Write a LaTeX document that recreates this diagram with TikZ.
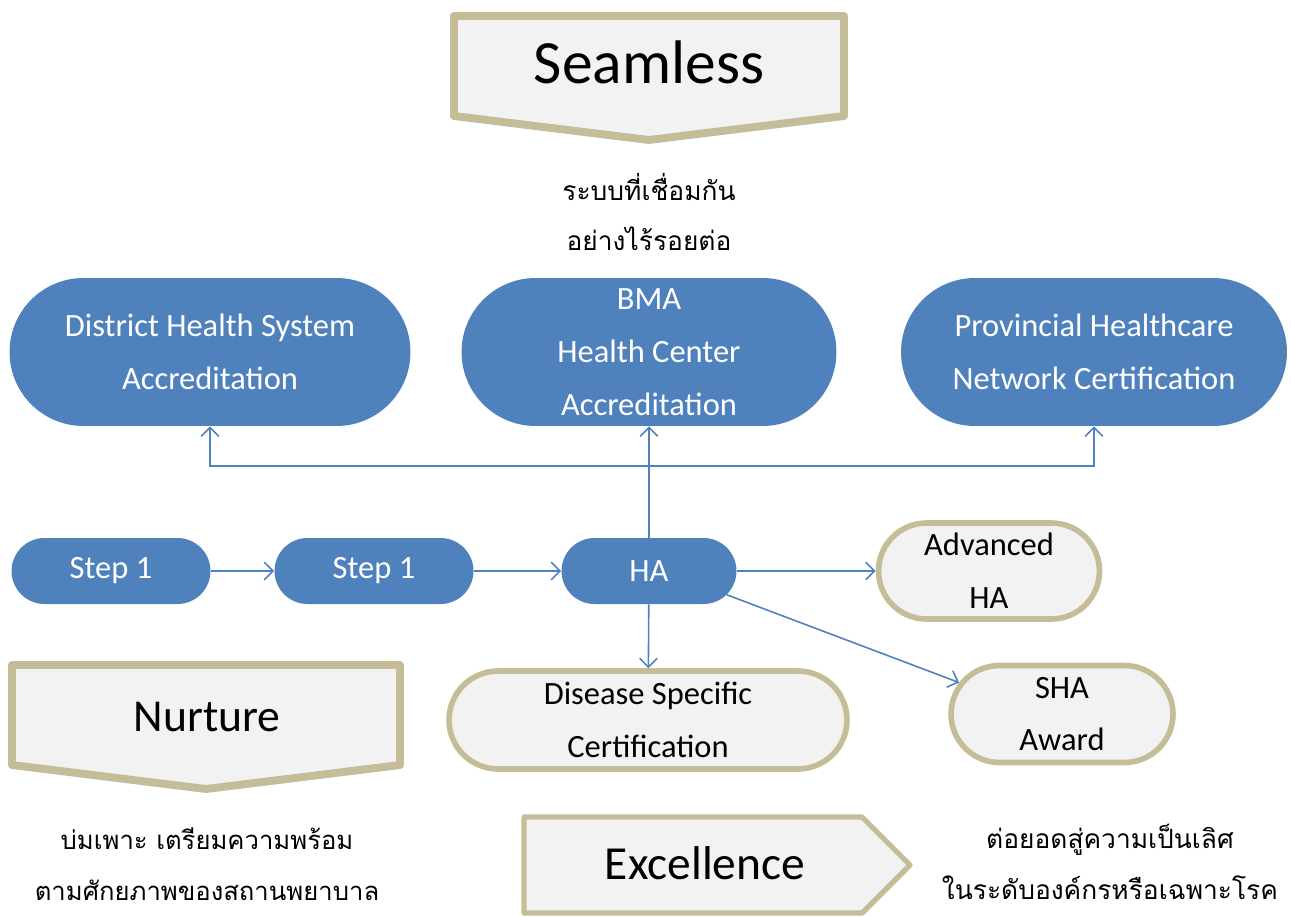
\documentclass[tikz,border=0pt]{standalone}
\usepackage{fontspec}
\setmainfont{Carlito}
\newfontfamily\thaifont[Script=Thai]{Loma}
\usetikzlibrary{shapes.misc,arrows.meta}
\definecolor{hablue}{HTML}{4F81BD}
\definecolor{hatan}{HTML}{C4BD97}
\definecolor{hagrey}{HTML}{F2F2F2}
\tikzset{
  bluebox/.style={rounded rectangle, fill=hablue, text=white, align=center,
    font=\fontsize{18.5}{30}\selectfont, inner sep=0pt},
  greybox/.style={rounded rectangle, fill=hagrey, draw=hatan, line width=3.2pt,
    align=center, font=\fontsize{18.5}{30}\selectfont, inner sep=0pt},
  banner/.style={fill=hagrey, draw=hatan, line width=4.5pt, line join=round},
  link/.style={draw=hablue, line width=0.9pt, -{Straight Barb[length=5pt,width=10pt]}},
  thaitext/.style={align=center, font=\thaifont\fontsize{15}{29}\selectfont}
}
\begin{document}
\begin{tikzpicture}[x=0.02cm,y=-0.02cm]
\useasboundingbox (0,0) rectangle (1291,916);
% banners
\draw[banner] (454,16) -- (844,16) -- (844,116) -- (649,140) -- (454,116) -- cycle;
\node[font=\fontsize{35}{35}\selectfont] (seam) at (649,62) {Seamless};
\node[thaitext] (seamth) at (649,212) {ระบบที่เชื่อมกัน\\อย่างไร้รอยต่อ};
\draw[banner] (12,665) -- (400,665) -- (400,765) -- (206,789) -- (12,765) -- cycle;
\node[font=\fontsize{26}{26}\selectfont] (nurt) at (207,717) {Nurture};
\node[thaitext, font=\thaifont\fontsize{14.6}{29}\selectfont] (nurtth) at (207,864) {บ่มเพาะ เตรียมความพร้อม\\ตามศักยภาพของสถานพยาบาล};
\draw[banner, line width=3pt] (524,817) -- (862,817) -- (910,865) -- (862,913) -- (524,913) -- cycle;
\node[font=\fontsize{27}{27}\selectfont] (exc) at (705,863) {Excellence};
\node[thaitext] (excth) at (1110,862) {ต่อยอดสู่ความเป็นเลิศ\\ในระดับองค์กรหรือเฉพาะโรค};
% accreditation boxes
\node[bluebox, minimum width=8.02cm, minimum height=2.96cm] (dhs) at (210,352)
  {District Health\ System\\Accreditation};
\node[bluebox, minimum width=7.5cm, minimum height=2.96cm] (bma) at (649,352)
  {BMA\\Health Center\\Accreditation};
\node[bluebox, minimum width=7.72cm, minimum height=2.96cm] (phn) at (1094,352)
  {Provincial Healthcare\\Network Certification};
% steps
\node[bluebox, minimum width=3.98cm, minimum height=1.32cm] (st1) at (111,571) {Step 1};
\node[bluebox, minimum width=3.98cm, minimum height=1.32cm] (st2) at (374,571) {Step 1};
\node[bluebox, minimum width=3.5cm, minimum height=1.32cm] (ha) at (649,571) {HA};
\node[greybox, minimum width=4.42cm, minimum height=1.92cm] (aha) at (989,571) {Advanced\\HA};
\node[greybox, minimum width=7.96cm, minimum height=1.96cm] (dsc) at (648,720) {Disease Specific\\Certification};
\node[greybox, minimum width=4.44cm, minimum height=1.94cm] (sha) at (1062,714) {SHA\\Award};
% connectors
\coordinate (jn) at (649,466);
\draw[link] (ha.north) -- (bma.south);
\draw[link] (jn) -| (dhs.south);
\draw[link] (jn) -| (phn.south);
\draw[link] (st1) -- (st2);
\draw[link] (st2) -- (ha);
\draw[link] (ha) -- (aha);
\draw[link] (ha) -- (dsc);
\draw[link] (ha.-17) -- (sha.163);
\end{tikzpicture}
\end{document}
